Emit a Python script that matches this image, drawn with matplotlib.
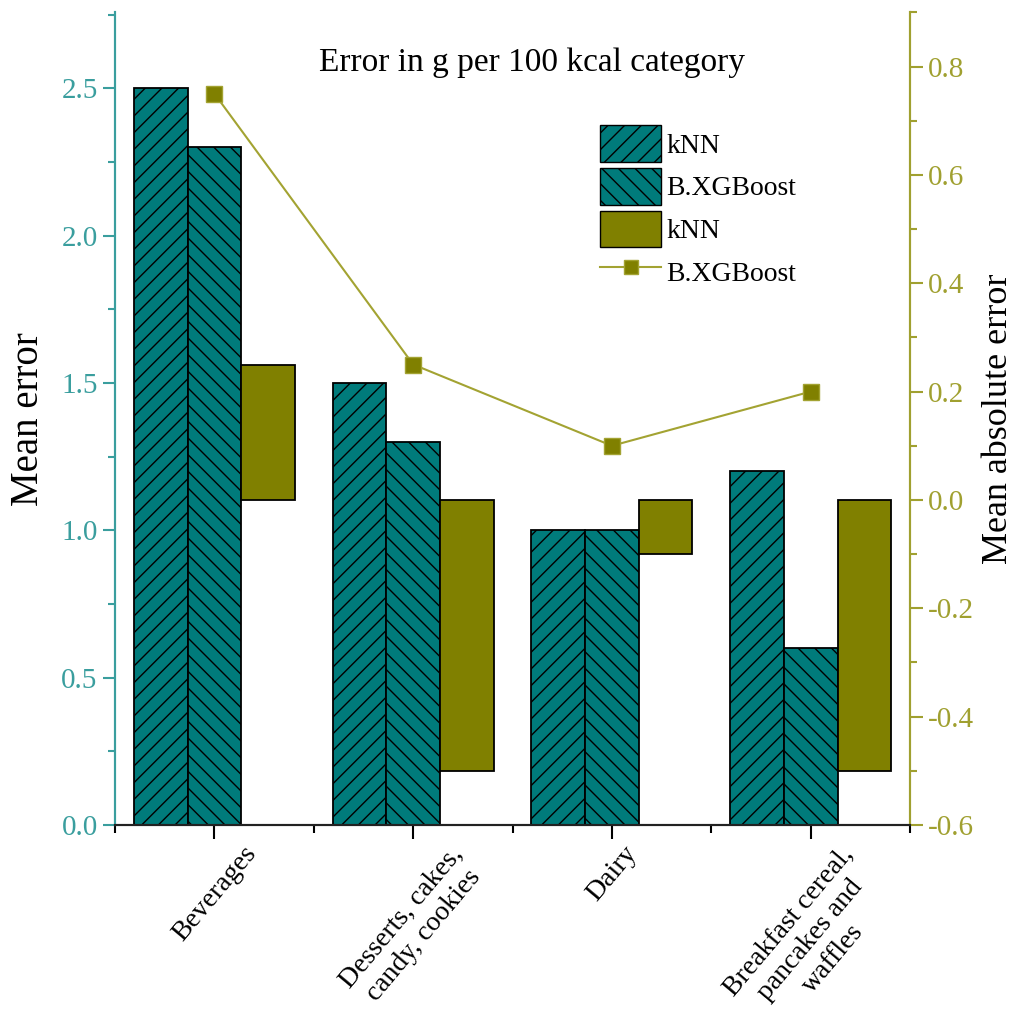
import matplotlib.pyplot as plt
from matplotlib.patches import Patch
from matplotlib.lines import Line2D
from matplotlib.ticker import MultipleLocator
import numpy as np

plt.rcParams['font.family'] = ['Liberation Serif', 'DejaVu Serif']
plt.rcParams['hatch.linewidth'] = 1.0

categories = ['Beverages', 'Desserts, cakes,\ncandy, cookies', 'Dairy',
              'Breakfast cereal,\npancakes and\nwaffles']
mean_err_knn = [2.5, 1.5, 1.0, 1.2]
mean_err_xgb = [2.3, 1.3, 1.0, 0.6]
mae_knn = [0.25, -0.5, -0.1, -0.5]
mae_xgb = [0.75, 0.25, 0.1, 0.2]

TEAL = '#007b7b'
OLIVE = '#808000'
TEAL_AX = '#3a9e9e'
OLIVE_AX = '#a0a030'
LINE_C = '#a3a332'

x = np.arange(len(categories))
w = 0.27

fig = plt.figure(figsize=(10.18, 10.32), dpi=100)
ax = fig.add_axes([0.113, 0.2006, 0.781, 0.7874])
ax2 = ax.twinx()

ax.bar(x - w, mean_err_knn, w, color=TEAL, edgecolor='black', linewidth=1.3, hatch='//', zorder=2)
ax.bar(x, mean_err_xgb, w, color=TEAL, edgecolor='black', linewidth=1.3, hatch='\\\\', zorder=2)
ax2.bar(x + w, mae_knn, w, color=OLIVE, edgecolor='black', linewidth=1.3, zorder=2)
ax2.plot(x, mae_xgb, color=LINE_C, linewidth=1.5, marker='s', markersize=11,
         markerfacecolor=OLIVE, markeredgecolor=LINE_C, zorder=3)

ax.set_xlim(-0.5, 3.5)
ax.set_ylim(0, 2.758)
ax2.set_ylim(-0.6, 0.9)

ax.set_xticks(x)
ax.set_xticklabels(categories, rotation=50, ha='center', va='top',
                   fontsize=20, multialignment='center', linespacing=1.2)
ax.set_xticks(np.arange(-0.5, 4.0, 1.0), minor=True)
ax.tick_params(axis='x', which='major', length=10, width=1.5, direction='out', pad=2)
ax.tick_params(axis='x', which='minor', length=6, width=1.5, direction='out')

ax.yaxis.set_major_locator(MultipleLocator(0.5))
ax.yaxis.set_minor_locator(MultipleLocator(0.25))
ax.tick_params(axis='y', which='major', length=9, width=1.5, colors=TEAL_AX, labelsize=21)
ax.tick_params(axis='y', which='minor', length=5, width=1.5, colors=TEAL_AX)
ax.yaxis.set_major_formatter(plt.FormatStrFormatter('%.1f'))

ax2.yaxis.set_major_locator(MultipleLocator(0.2))
ax2.yaxis.set_minor_locator(MultipleLocator(0.1))
ax2.tick_params(axis='y', which='major', length=9, width=1.5, colors=OLIVE_AX, labelsize=21)
ax2.tick_params(axis='y', which='minor', length=5, width=1.5, colors=OLIVE_AX)
ax2.yaxis.set_major_formatter(plt.FormatStrFormatter('%.1f'))

for a in (ax, ax2):
    a.spines['top'].set_visible(False)
    a.spines['left'].set_color(TEAL_AX)
    a.spines['right'].set_color(OLIVE_AX)
    a.spines['bottom'].set_color('#222222')
    for s in a.spines.values():
        s.set_linewidth(1.5)

ax.set_ylabel('Mean error', fontsize=28, labelpad=10)
ax2.set_ylabel('Mean absolute error', fontsize=26, labelpad=6)

ax.text(0.525, 0.938, 'Error in g per 100 kcal category', transform=ax.transAxes,
        ha='center', va='center', fontsize=24)

handles = [
    Patch(facecolor=TEAL, edgecolor='black', hatch='//', label='kNN'),
    Patch(facecolor=TEAL, edgecolor='black', hatch='\\\\', label='B.XGBoost'),
    Patch(facecolor=OLIVE, edgecolor='black', label='kNN'),
    Line2D([], [], color=LINE_C, linewidth=1.5, marker='s', markersize=10,
           markerfacecolor=OLIVE, markeredgecolor=LINE_C, label='B.XGBoost'),
]
ax2.legend(handles=handles, loc='upper left', bbox_to_anchor=(0.61, 0.861), frameon=False,
           fontsize=20, handlelength=2.2, handleheight=1.65, handletextpad=0.2,
           labelspacing=0.22, borderaxespad=0, borderpad=0)

fig.savefig('out.png', dpi=100)
